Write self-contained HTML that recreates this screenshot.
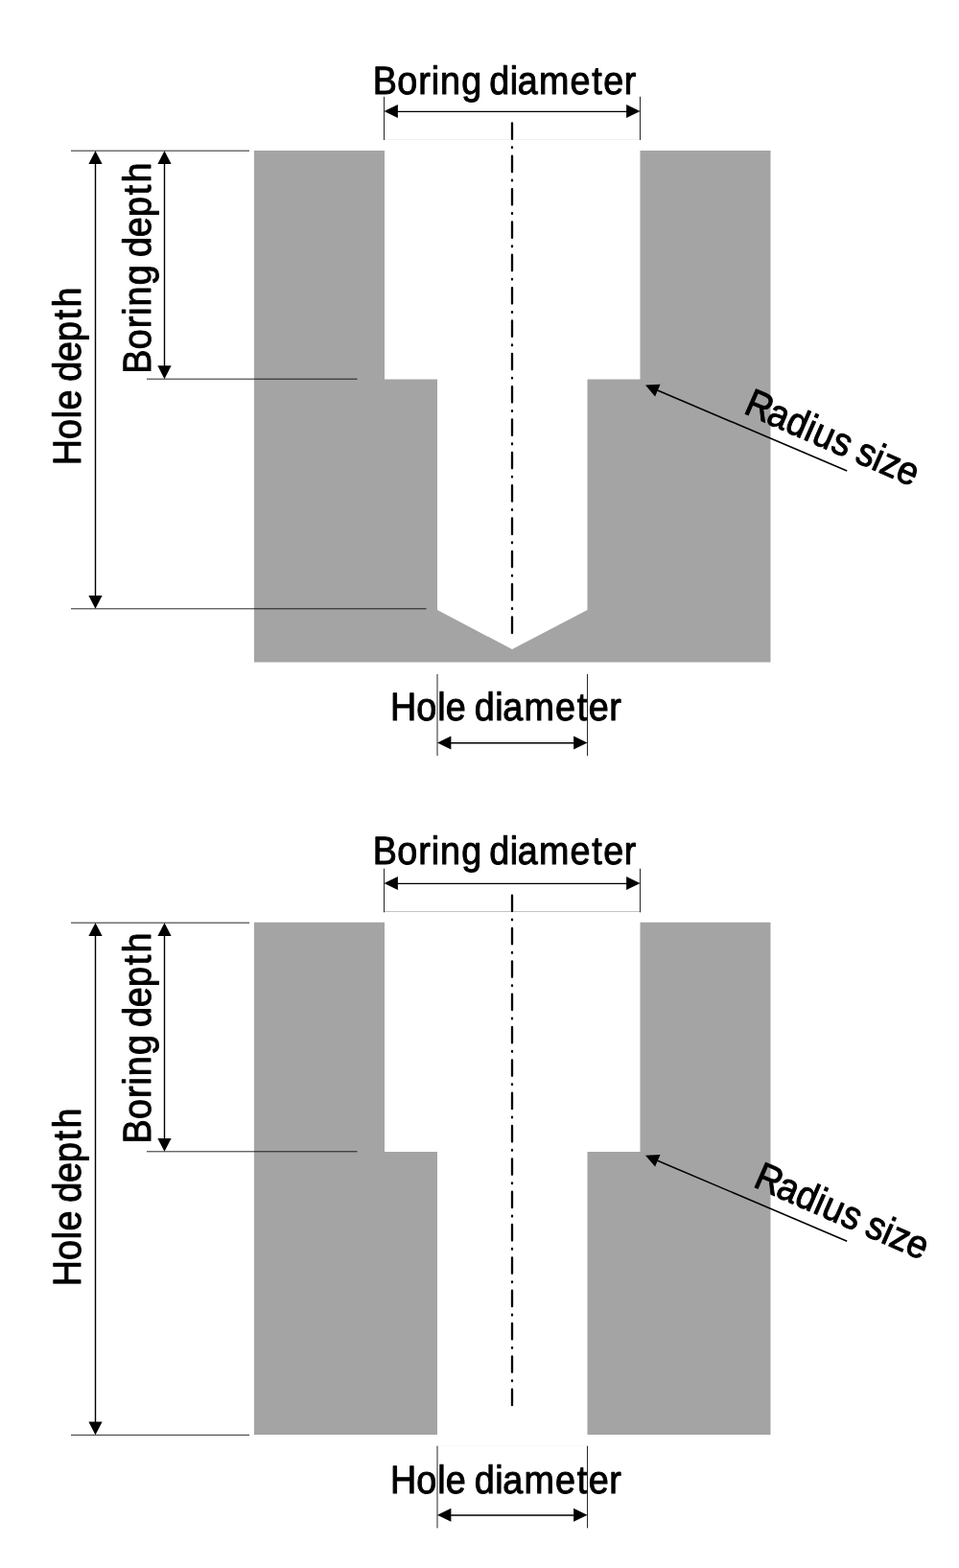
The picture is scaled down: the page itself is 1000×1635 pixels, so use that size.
<!DOCTYPE html>
<html lang="en">
<head>
<meta charset="utf-8">
<title>Boring and hole dimensions</title>
<style>
html,body{margin:0;padding:0;background:#fff;}
body{width:1000px;height:1635px;overflow:hidden;}
svg{display:block;}
text{font-family:"Liberation Sans",sans-serif;font-size:41px;fill:#000;stroke:#000;stroke-width:1.0;stroke-linejoin:round;text-rendering:geometricPrecision;}
.ext{stroke:#000;stroke-width:0.85;fill:none;}
.dim{stroke:#000;stroke-width:1.4;fill:none;}
.rad{stroke:#000;stroke-width:1.6;fill:none;}
.cl{stroke:#000;stroke-width:2.3;fill:none;stroke-linecap:round;stroke-dasharray:16.5 8.52 0.8 8.52;}
.g{fill:#a4a4a4;}
.ah{fill:#000;}
</style>
</head>
<body>
<svg width="1000" height="1635" viewBox="0 0 1000 1635">
<rect width="1000" height="1635" fill="#fff"/>
<g id="d1">
<polygon class="g" points="265,157 401,157 401,395.5 456,395.5 456,636 534,677 612.5,636 612.5,395.5 667.5,395.5 667.5,157 803.5,157 803.5,690.5 265,690.5"/>
<line x1="401" y1="145.5" x2="667" y2="145.5" stroke="#f2f2f2" stroke-width="1"/>
<line class="cl" x1="534" y1="128.4" x2="534" y2="660.2"/>
<line class="ext" x1="400.5" y1="100.8" x2="400.5" y2="146"/>
<line class="ext" x1="667.5" y1="100.8" x2="667.5" y2="146"/>
<line class="dim" x1="410" y1="116.4" x2="658" y2="116.4"/>
<polygon class="ah" points="400.50,116.10 414.90,123.10 414.90,109.10"/>
<polygon class="ah" points="667.50,116.10 653.10,109.10 653.10,123.10"/>
<text transform="translate(0,98) scale(0.92,1)" x="422.6 450.2 474.3 488.9 498.9 523.1 545.3 554.6 577.9 586.6 610.8 646.1 670.8 684 707.4">Boring diameter</text>
<line class="ext" x1="74" y1="157.2" x2="260" y2="157.2"/>
<line class="ext" x1="153" y1="395.2" x2="372.5" y2="395.2"/>
<line class="ext" x1="74" y1="634.8" x2="444.5" y2="634.8"/>
<line class="dim" x1="99.5" y1="165.2" x2="99.5" y2="626.8"/>
<polygon class="ah" points="99.50,157.20 92.40,171.10 106.60,171.10"/>
<polygon class="ah" points="99.50,634.80 106.60,620.90 92.40,620.90"/>
<line class="dim" x1="171.5" y1="165.2" x2="171.5" y2="387.2"/>
<polygon class="ah" points="171.50,157.20 164.40,171.10 178.60,171.10"/>
<polygon class="ah" points="171.50,395.20 178.60,381.30 164.40,381.30"/>
<text transform="translate(157,386.9) rotate(-90) scale(0.92,1)" x="-3.1 24.6 48.6 63.3 73.2 97.5 119.7 129.3 151.9 174.8 199.5 213.4">Boring depth</text>
<text transform="translate(84,482.8) rotate(-90) scale(0.92,1)" x="-2.8 27 50.7 60.1 82.1 92.4 115 137.9 162.6 176.5">Hole depth</text>
<text transform="translate(0,751) scale(0.92,1)" x="442.3 472.1 495.9 505.3 527.2 537.8 561.2 569.9 594.1 629.4 654 667.2 690.6">Hole diameter</text>
<line class="ext" x1="456" y1="703" x2="456" y2="788"/>
<line class="ext" x1="612.5" y1="703" x2="612.5" y2="788"/>
<line class="dim" x1="465" y1="774.7" x2="603" y2="774.7"/>
<polygon class="ah" points="456.00,774.40 470.40,781.40 470.40,767.40"/>
<polygon class="ah" points="612.50,774.40 598.10,767.40 598.10,781.40"/>
<line class="rad" x1="680.36" y1="404.73" x2="883.2" y2="491.0"/>
<polygon class="ah" points="673.00,401.60 683.09,413.39 688.49,400.69"/>
<text transform="translate(777.60,431.84) rotate(23.6) scale(0.92,1)" x="-4 23.7 46.6 70 79.8 103.1 123 133.4 153.9 163.4 183">Radius size</text>
</g>
<g id="d2">
<path class="g" d="M265,961.8H401V1201H456V1496H265Z M667.5,961.8H803.5V1496H612.5V1201H667.5Z"/>
<line x1="401" y1="950.5" x2="667" y2="950.5" stroke="#c4c4c4" stroke-width="1"/>
<line class="cl" x1="534" y1="933.6" x2="534" y2="1465.2"/>
<line class="ext" x1="400.5" y1="905.7" x2="400.5" y2="951.3"/>
<line class="ext" x1="667.5" y1="905.7" x2="667.5" y2="951.3"/>
<line class="dim" x1="410" y1="921.4" x2="658" y2="921.4"/>
<polygon class="ah" points="400.50,921.10 414.90,928.10 414.90,914.10"/>
<polygon class="ah" points="667.50,921.10 653.10,914.10 653.10,928.10"/>
<text transform="translate(0,901) scale(0.92,1)" x="422.6 450.2 474.3 488.9 498.9 523.1 545.3 554.6 577.9 586.6 610.8 646.1 670.8 684 707.4">Boring diameter</text>
<line class="ext" x1="74" y1="962.2" x2="260" y2="962.2"/>
<line class="ext" x1="153" y1="1200.8" x2="372.5" y2="1200.8"/>
<line class="ext" x1="74" y1="1496.3" x2="260" y2="1496.3"/>
<line class="dim" x1="99.5" y1="970.2" x2="99.5" y2="1488.3"/>
<polygon class="ah" points="99.50,962.20 92.40,976.10 106.60,976.10"/>
<polygon class="ah" points="99.50,1496.30 106.60,1482.40 92.40,1482.40"/>
<line class="dim" x1="171.5" y1="970.2" x2="171.5" y2="1192.8"/>
<polygon class="ah" points="171.50,962.20 164.40,976.10 178.60,976.10"/>
<polygon class="ah" points="171.50,1200.80 178.60,1186.90 164.40,1186.90"/>
<text transform="translate(157,1189.7) rotate(-90) scale(0.92,1)" x="-3.1 24.6 48.6 63.3 73.2 97.5 119.7 129.1 151.7 174.6 199.3 213.2">Boring depth</text>
<text transform="translate(84,1338.8) rotate(-90) scale(0.92,1)" x="-2.8 27 50.7 60.1 82.1 92.4 115 137.9 162.6 176.5">Hole depth</text>
<line x1="456" y1="1507.5" x2="612" y2="1507.5" stroke="#f9f9f9" stroke-width="1"/>
<text transform="translate(0,1557) scale(0.92,1)" x="442.3 472.1 495.8 505.2 527.2 537.8 561.2 569.9 594.1 629.4 654 667.2 690.6">Hole diameter</text>
<line class="ext" x1="456" y1="1507.7" x2="456" y2="1593.4"/>
<line class="ext" x1="612.5" y1="1507.7" x2="612.5" y2="1593.4"/>
<line class="dim" x1="465" y1="1580" x2="603" y2="1580"/>
<polygon class="ah" points="456.00,1579.70 470.40,1586.70 470.40,1572.70"/>
<polygon class="ah" points="612.50,1579.70 598.10,1572.70 598.10,1586.70"/>
<line class="rad" x1="680.36" y1="1207.93" x2="883.2" y2="1294.2"/>
<polygon class="ah" points="673.00,1204.80 683.09,1216.59 688.49,1203.89"/>
<text transform="translate(787.60,1238.34) rotate(23.6) scale(0.92,1)" x="-4 23.7 46.6 70 79.8 103.1 123 133.4 153.9 163.4 183">Radius size</text>
</g>
</svg>
</body>
</html>
